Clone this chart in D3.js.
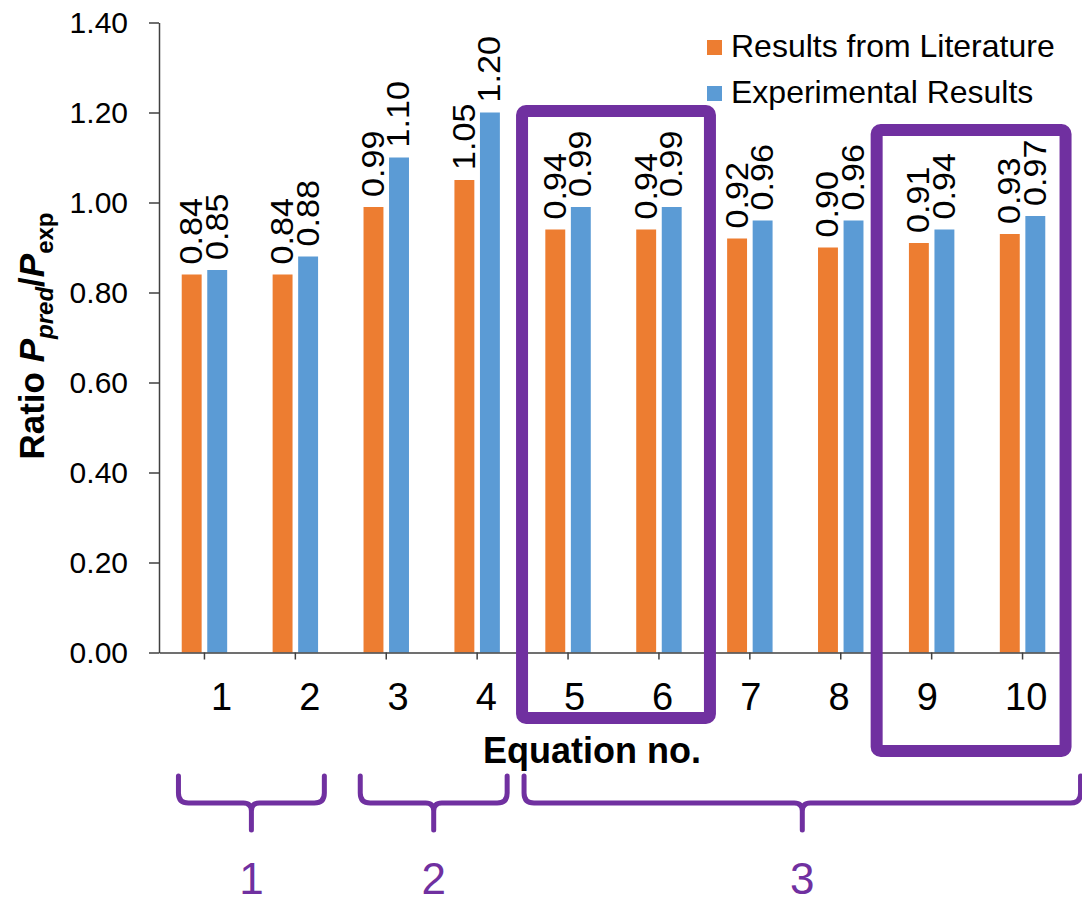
<!DOCTYPE html>
<html>
<head>
<meta charset="utf-8">
<script src="https://cdn.jsdelivr.net/npm/d3@7"></script>
<style>
body { margin: 0; background: #fff; }
text { font-family: Arial, "Liberation Sans", sans-serif; }
</style>
</head>
<body>
<div id="main"></div>
<script>
// chart values
var equations = ['1', '2', '3', '4', '5', '6', '7', '8', '9', '10'];
var literature = [0.84, 0.84, 0.99, 1.05, 0.94, 0.94, 0.92, 0.90, 0.91, 0.93];
var experimental = [0.85, 0.88, 1.10, 1.20, 0.99, 0.99, 0.96, 0.96, 0.94, 0.97];
var seriesNames = ['Results from Literature', 'Experimental Results'];
var yTicks = [0, 0.2, 0.4, 0.6, 0.8, 1.0, 1.2, 1.4];

// annotation groups (equation ranges)
var groupLabels = ['1', '2', '3'];
var groupFrom = ['1', '3', '5'];
var groupTo = ['2', '4', '10'];
var boxFrom = ['5', '9'];
var boxTo = ['6', '10'];

var colors = ['#ED7D31', '#5B9BD5'];
var purple = '#7030A0';
var W = 1082, H = 905;

var svg = d3.select('#main').append('svg')
	.attr('width', W)
	.attr('height', H);

var x0 = d3.scaleBand().domain(equations).range([159, 1068])
	.paddingInner(0.5).paddingOuter(0.25);
var x1 = d3.scaleBand().domain([0, 1]).range([0, x0.bandwidth()]).paddingInner(0.22);
var y = d3.scaleLinear().domain([0, 1.4]).range([652.5, 22.5]);
var labelX = d3.scalePoint().domain(equations).range([211, 1005]);
var fmt = d3.format('.2f');

var rows = equations.map(function(eq, i){
	return {eq: eq, vals: [literature[i], experimental[i]]};
});

// bars
var grp = svg.selectAll('g.grp')
	.data(rows)
	.enter().append('g')
	.attr('class', 'grp')
	.attr('transform', function(d){ return 'translate(' + x0(d.eq) + ',0)'; });

grp.selectAll('rect')
	.data(function(d){ return d.vals; })
	.enter().append('rect')
	.attr('x', function(d, i){ return x1(i); })
	.attr('width', x1.bandwidth())
	.attr('y', function(d){ return y(d); })
	.attr('height', function(d){ return y(0) - y(d); })
	.attr('fill', function(d, i){ return colors[i]; });

// value labels, rotated (slightly stretched like the original)
grp.selectAll('text')
	.data(function(d){ return d.vals; })
	.enter().append('text')
	.attr('transform', function(d, i){
		return 'translate(' + (x1(i) + x1.bandwidth() / 2) + ',' + (y(d) - 10) + ') rotate(-90) scale(1.1,1)';
	})
	.attr('dominant-baseline', 'central')
	.style('font-size', '31px')
	.style('fill', '#000')
	.text(function(d){ return fmt(d); });

// y axis
var yAxis = svg.append('g')
	.attr('transform', 'translate(159,0)')
	.call(d3.axisLeft(y).tickValues(yTicks).tickFormat(fmt)
		.tickSize(10).tickSizeOuter(0).tickPadding(21));
yAxis.selectAll('text').style('font-size', '30px').style('fill', '#000')
	.style('font-family', 'Arial, "Liberation Sans", sans-serif');
yAxis.selectAll('line,path').style('stroke', '#404040').style('stroke-width', 1.5);

// x axis
var xAxis = svg.append('g')
	.attr('transform', 'translate(0,' + y(0) + ')')
	.call(d3.axisBottom(x0).tickSize(7).tickSizeOuter(0).tickFormat(''));
xAxis.selectAll('line,path').style('stroke', '#404040').style('stroke-width', 1.5);

svg.append('g').selectAll('text')
	.data(equations)
	.enter().append('text')
	.attr('x', function(d){ return labelX(d); })
	.attr('y', 710)
	.style('font-size', '38px')
	.style('fill', '#000')
	.text(function(d){ return d; });

// axis titles
svg.append('text')
	.attr('x', 592)
	.attr('y', 763)
	.attr('text-anchor', 'middle')
	.style('font-size', '36px')
	.style('font-weight', 'bold')
	.text('Equation no.');

var yt = svg.append('text')
	.attr('transform', 'translate(44,336) rotate(-90)')
	.attr('text-anchor', 'middle')
	.style('font-size', '35px')
	.style('font-weight', 'bold');
yt.append('tspan').text('Ratio ');
yt.append('tspan').style('font-style', 'italic').text('P');
yt.append('tspan').attr('dy', 9).style('font-size', '24px').style('font-style', 'italic').text('pred');
yt.append('tspan').attr('dy', -9).text('/');
yt.append('tspan').style('font-style', 'italic').text('P');
yt.append('tspan').attr('dy', 9).style('font-size', '24px').text('exp');

// legend
var leg = svg.append('g').selectAll('g')
	.data(seriesNames)
	.enter().append('g')
	.attr('transform', function(d, i){ return 'translate(707,' + (57 + i * 46) + ')'; });
leg.append('rect')
	.attr('x', 0).attr('y', -17)
	.attr('width', 15).attr('height', 15)
	.attr('fill', function(d, i){ return colors[i]; });
leg.append('text')
	.attr('x', 24)
	.attr('y', 0)
	.style('font-size', '32px')
	.text(function(d){ return d; });

// highlight boxes around equations 5-6 and 9-10
var boxPad = [[-46, 51, 111, 718], [-55, 43, 130, 751]];
svg.append('g').selectAll('rect')
	.data(boxFrom)
	.enter().append('rect')
	.attr('x', function(d, i){ return x0(d) + x0.bandwidth() / 2 + boxPad[i][0]; })
	.attr('y', function(d, i){ return boxPad[i][2]; })
	.attr('width', function(d, i){
		return x0(boxTo[i]) - x0(d) + boxPad[i][1] - boxPad[i][0];
	})
	.attr('height', function(d, i){ return boxPad[i][3] - boxPad[i][2]; })
	.attr('rx', 4)
	.attr('fill', 'none')
	.attr('stroke', purple)
	.attr('stroke-width', 12);

// braces below the axis
var bracePad = [[-26, 29], [-26, 30], [-44, 58]];
var bTop = 776, bMid = 803, bTip = 830, bR = 10;
function bracePath(l, rt){
	var c = (l + rt) / 2;
	return 'M' + l + ',' + bTop + 'L' + l + ',' + (bMid - bR) +
		'Q' + l + ',' + bMid + ' ' + (l + bR) + ',' + bMid +
		'L' + (c - 8) + ',' + bMid + 'Q' + c + ',' + bMid + ' ' + c + ',' + (bMid + 8) +
		'L' + c + ',' + bTip +
		'M' + c + ',' + (bMid + 8) + 'Q' + c + ',' + bMid + ' ' + (c + 8) + ',' + bMid +
		'L' + (rt - bR) + ',' + bMid + 'Q' + rt + ',' + bMid + ' ' + rt + ',' + (bMid - bR) +
		'L' + rt + ',' + bTop;
}
var braces = svg.append('g').selectAll('g')
	.data(groupLabels)
	.enter().append('g');
braces.each(function(d, i){
	var l = x0(groupFrom[i]) + x0.bandwidth() / 2 + bracePad[i][0];
	var rt = x0(groupTo[i]) + x0.bandwidth() / 2 + bracePad[i][1];
	var g = d3.select(this);
	g.append('path')
		.attr('d', bracePath(l, rt))
		.attr('fill', 'none')
		.attr('stroke', purple)
		.attr('stroke-width', 5)
		.attr('stroke-linecap', 'round')
		.attr('stroke-linejoin', 'round');
	g.append('text')
		.attr('x', (l + rt) / 2)
		.attr('y', 894)
		.attr('text-anchor', 'middle')
		.style('font-size', '44px')
		.style('fill', purple)
		.text(d);
});
</script>
</body>
</html>
